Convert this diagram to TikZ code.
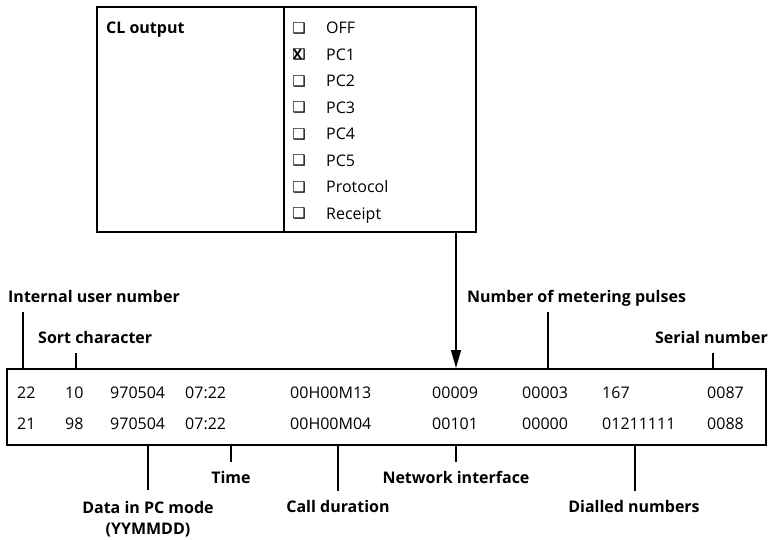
\documentclass[tikz,border=0pt]{standalone}
\usepackage{fontspec}
\setmainfont{Open Sans}
\newfontfamily\dingfont{DejaVu Sans}
\usetikzlibrary{arrows.meta}

\tikzset{
  frame/.style={draw, line width=1.8pt, inner sep=0pt},
  leader/.style={line width=1.1pt},
  feed/.style={line width=1.3pt, -{Triangle[width=10pt, length=18pt]}},
  cell/.style={anchor=base west, inner sep=0pt, font=\fontsize{16}{19}\selectfont},
  optlbl/.style={cell},
  chk/.style={inner sep=0pt, font=\dingfont\bfseries\fontsize{15}{16}\selectfont},
  lbl/.style={font=\fontsize{16}{21}\selectfont\bfseries, anchor=base,
    text height=10pt, text depth=3pt, inner xsep=0pt},
  toplbl/.style={lbl, inner ysep=6.5pt},
  botlbl/.style={lbl, inner ysep=11pt},
}

\begin{document}
\begin{tikzpicture}[x=1pt, y=-1pt]
\useasboundingbox (0,0) rectangle (771,539);

% --- CL output table ---
\node[frame, minimum width=379pt, minimum height=225pt, anchor=north west]
  (cfg) at (96,6) {};
\coordinate (c-div) at (284,6);
\draw[line width=1.5pt] (c-div) -- (c-div |- cfg.south);
\node[cell, font=\fontsize{16}{19}\selectfont\bfseries] (cl) at (106,33) {CL output};

\foreach \opt [count=\i] in {OFF,PC1,PC2,PC3,PC4,PC5,Protocol,Receipt} {
  \node[optlbl] (opt\i) at (326,{33.5+(\i-1)*26.5}) {\opt};
  \node[chk] (box\i) at (299,{28+(\i-1)*26.5}) {❑};
}
\node[inner sep=0pt, font=\fontsize{14}{16}\selectfont\bfseries]
  (pcmark) at ([xshift=-1.5pt]box2.center) {X};

% --- record table ---
\node[frame, minimum width=759pt, minimum height=76pt, anchor=north west]
  (rec) at (6,368) {};

\foreach \x/\a/\b [count=\j] in {17/22/21, 65/10/98, 110/970504/970504,
    185/07:22/07:22, 290/00H00M13/00H00M04, 432/00009/00101,
    522/00003/00000, 602/167/01211111, 707/0087/0088} {
  \node[cell] (r1c\j) at (\x,398) {\a};
  \node[cell] (r2c\j) at (\x,429) {\b};
}

% feed from CL output into the record
\coordinate (e-feed) at (456,368);
\draw[feed] (e-feed |- cfg.south) -- (e-feed);

% --- labels above ---
\node[toplbl, anchor=base west] (iun) at (8,302.5) {Internal user number};
\node[toplbl, anchor=base west] (sort) at (38,343.5) {Sort character};
\node[toplbl, anchor=base west] (pulses) at (467,302.5) {Number of metering pulses};
\node[toplbl, anchor=base east] (serial) at (768,343.5) {Serial number};

\coordinate (e-iun) at (23,368);
\coordinate (e-sort) at (76,368);
\coordinate (e-pulses) at (548,368);
\coordinate (e-serial) at (713,368);
\draw[leader] (iun.south -| e-iun) -- (e-iun);
\draw[leader] (sort.south -| e-sort) -- (e-sort);
\draw[leader] (pulses.south -| e-pulses) -- (e-pulses);
\draw[leader] (serial.south -| e-serial) -- (e-serial);

% --- labels below ---
\node[font=\fontsize{16}{21}\selectfont\bfseries, align=center, inner sep=0pt,
  outer ysep=11pt, anchor=north] (date) at (148,490) {Data in PC mode\\(YYMMDD)};
\node[botlbl] (time) at (231,483) {Time};
\node[botlbl] (dur) at (338,512) {Call duration};
\node[botlbl] (net) at (456,483) {Network interface};
\node[botlbl] (dial) at (634,512) {Dialled numbers};

\coordinate (e-date) at (148,444);
\coordinate (e-time) at (231,444);
\coordinate (e-dur) at (338,444);
\coordinate (e-net) at (456,444);
\coordinate (e-dial) at (635,444);
\draw[leader] (e-date) -- (e-date |- date.north);
\draw[leader] (e-time) -- (e-time |- time.north);
\draw[leader] (e-dur) -- (e-dur |- dur.north);
\draw[leader] (e-net) -- (e-net |- net.north);
\draw[leader] (e-dial) -- (e-dial |- dial.north);

\end{tikzpicture}
\end{document}
